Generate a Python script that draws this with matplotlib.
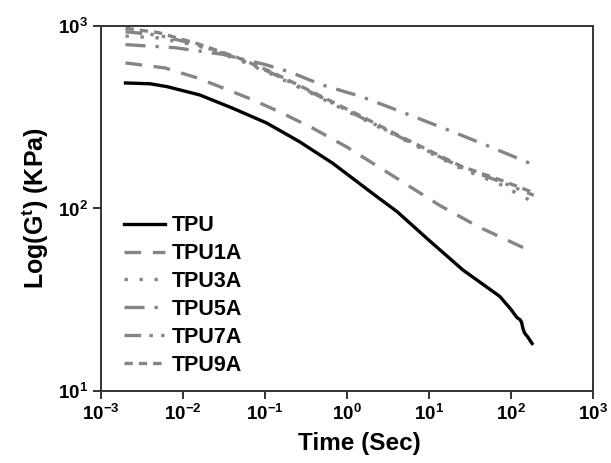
import matplotlib
matplotlib.use("Agg")
import matplotlib.pyplot as plt

# values (time in s, modulus in KPa)
tpu_t = [0.002, 0.004, 0.0064, 0.016, 0.04, 0.105, 0.265, 0.67, 1.09, 2.0, 4.1, 10, 26,
         73, 100, 117, 130, 135, 140, 145, 150, 160, 170, 181]
tpu_g = [487, 482, 465, 419, 355, 294, 232, 177, 150, 122, 96, 67, 46,
         33, 28, 25.4, 24.5, 23.7, 22.0, 21.0, 20.5, 19.8, 19.0, 18.2]

tpu1a_t = [0.002, 0.006, 0.015, 0.033, 0.071, 0.16, 0.38, 1.0, 4.4, 13.5, 41, 180]
tpu1a_g = [627, 589, 519, 452, 394, 334, 276, 217, 143, 104, 79, 58]

tpu5a_t = [0.002, 0.008, 0.03, 0.1, 0.2, 0.5, 1.5, 5, 20, 50, 180]
tpu5a_g = [790, 760, 700, 615, 560, 475, 410, 334, 262, 222, 175]

cluster_t = [0.002, 0.005, 0.015, 0.045, 0.12, 0.4, 1.5, 4, 10, 25, 75, 190]
tpu9a_g = [970, 920, 800, 675, 560, 430, 320, 255, 208, 170, 143, 122]
tpu7a_g = [930, 890, 790, 668, 553, 425, 315, 252, 205, 168, 140, 118]
tpu3a_g = [880, 860, 780, 660, 545, 420, 312, 250, 203, 165, 135, 108]

plt.rcParams["font.family"] = ["Liberation Sans", "DejaVu Sans"]
plt.rcParams["font.weight"] = "bold"
plt.rcParams["mathtext.fontset"] = "custom"
plt.rcParams["mathtext.rm"] = "Liberation Sans:bold"
plt.rcParams["mathtext.bf"] = "Liberation Sans:bold"
plt.rcParams["mathtext.it"] = "Liberation Sans:bold"
plt.rcParams["mathtext.default"] = "bf"

GRAY = "#858585"

fig = plt.figure(figsize=(6.11, 4.63), dpi=100)
ax = fig.add_axes([0.165, 0.1555, 0.8055, 0.7885])

ax.plot(tpu_t, tpu_g, color="black", lw=2.4, label="TPU")
ax.plot(tpu1a_t, tpu1a_g, color=GRAY, lw=2.4, dashes=(5, 3.5), label="TPU1A")
ax.plot(cluster_t, tpu3a_g, color=GRAY, lw=2.4, dashes=(1, 3.5), label="TPU3A")
ax.plot(tpu5a_t, tpu5a_g, color=GRAY, lw=2.4, dashes=(6, 3, 1, 3), label="TPU5A")
ax.plot(cluster_t, tpu7a_g, color=GRAY, lw=2.4, dashes=(5, 2.5, 1, 2.5, 1, 2.5), label="TPU7A")
ax.plot(cluster_t, tpu9a_g, color=GRAY, lw=2.4, dashes=(2.5, 1.8), label="TPU9A")

ax.set_xscale("log")
ax.set_yscale("log")
ax.set_xlim(1e-3, 1e3)
ax.set_ylim(10, 1000)
ax.minorticks_off()

for s in ax.spines.values():
    s.set_linewidth(1.4)
    s.set_color("#333333")
ax.tick_params(axis="both", which="major", direction="out", length=6, width=1.4,
               color="#333333", labelsize=13.5)

ax.set_xlabel("Time (Sec)", fontsize=17.5, fontweight="bold")
ax.xaxis.set_label_coords(0.525, -0.112)
ax.set_ylabel(r"Log(G$^{t}$) (KPa)", fontsize=18, fontweight="bold", labelpad=5)

ax.legend(loc="upper left", bbox_to_anchor=(0.03, 0.505), frameon=False,
          fontsize=15.5, handlelength=1.9, handletextpad=0.3, labelspacing=0.32,
          borderaxespad=0)

fig.savefig("out.png", dpi=100)
